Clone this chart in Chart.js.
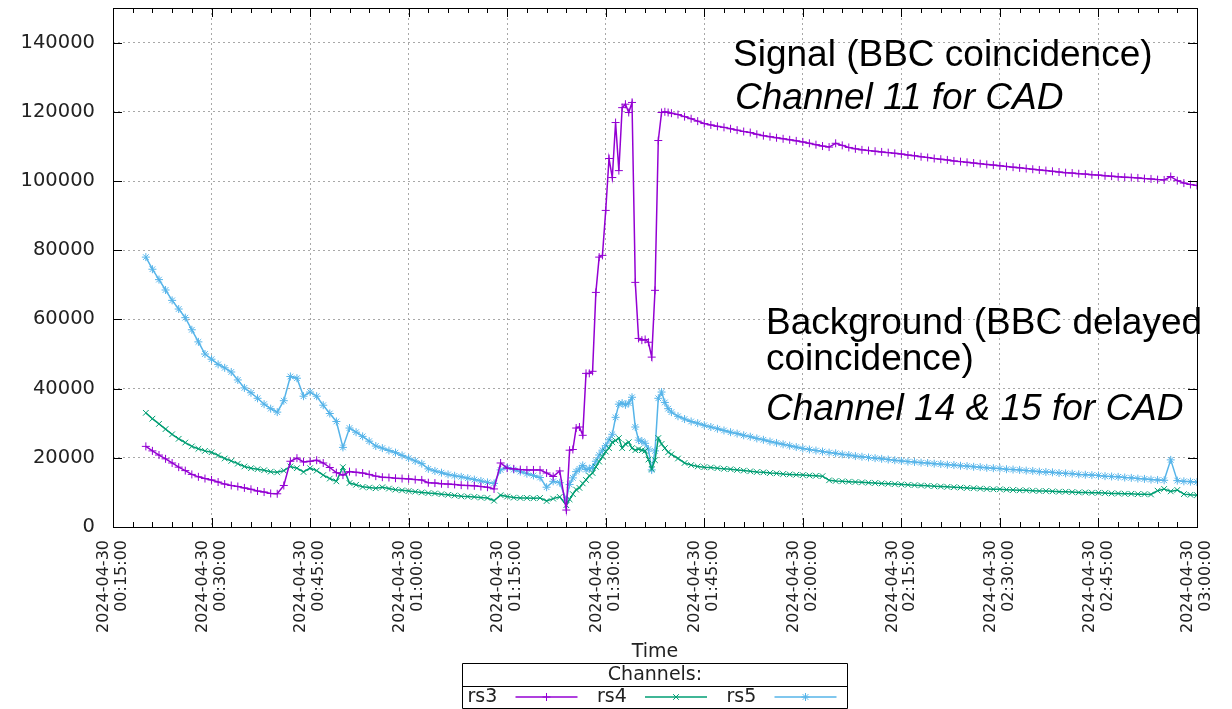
<!DOCTYPE html>
<html>
<head>
<meta charset="utf-8">
<script src="https://cdn.jsdelivr.net/npm/chart.js@4.4.1/dist/chart.umd.min.js"></script>
<style>
  html, body { margin: 0; padding: 0; background: #fff; }
  #wrap { width: 1232px; height: 709px; }
</style>
</head>
<body>
<div id="wrap"><canvas id="myChart" width="1232" height="709"></canvas></div>
<script>
// Global data (time = minutes after 2024-04-30 00:00)
let times = [
  20, 21, 22, 23, 24, 25, 26, 27, 28, 29,
  30, 31, 32, 33, 34, 35, 36, 37, 38, 39,
  40, 41, 42, 43, 44, 45, 46, 47, 48, 49,
  50, 51, 52, 53, 54, 55, 56, 57, 58, 59,
  60, 61, 62, 63, 64, 65, 66, 67, 68, 69,
  70, 71, 72, 73, 74, 75, 76, 77, 78, 79,
  80, 81, 82, 83, 84,
  84.5, 85, 85.5, 86, 86.5, 87, 87.5, 88, 88.5, 89, 89.5, 90, 90.5, 91, 91.5, 92,
  92.5, 93, 93.5, 94, 94.5, 95, 95.5, 96, 96.5, 97, 97.5, 98, 98.5, 99, 99.5, 100,
  101, 102, 103, 104, 105, 106, 107, 108, 109, 110,
  111, 112, 113, 114, 115, 116, 117, 118, 119, 120,
  121, 122, 123, 124, 125, 126, 127, 128, 129, 130,
  131, 132, 133, 134, 135, 136, 137, 138, 139, 140,
  141, 142, 143, 144, 145, 146, 147, 148, 149, 150,
  151, 152, 153, 154, 155, 156, 157, 158, 159, 160,
  161, 162, 163, 164, 165, 166, 167, 168, 169, 170,
  171, 172, 173, 174, 175, 176, 177, 178, 179, 180
];

let rs3 = [
  23300, 22000, 20800, 19700, 18500, 17300, 16300, 15200, 14500, 14000,
  13600, 13000, 12400, 12000, 11700, 11300, 10900, 10400, 10100, 9700,
  9600, 12000, 19000, 19900, 18800, 19000, 19300, 18500, 17200, 15700,
  15000, 16000, 15800, 15600, 15200, 14700, 14400, 14300, 14100, 14000,
  13900, 13700, 13600, 12800, 12700, 12500, 12400, 12300, 12100, 12000,
  11900, 11700, 11500, 11000, 18500, 17000, 16800, 16600, 16500, 16500,
  16500, 15600, 14600, 16200, 4900,
  22200, 22400, 28600, 28900, 26500, 44400, 44400, 45000, 67800, 78000, 78500, 91500, 106500, 101000, 116900, 103000,
  121200, 122200, 119800, 122700, 70700, 54500, 54000, 54200, 53400, 49100, 68400, 111700, 119800, 120000, 119800, 119600,
  119200, 118600, 118000, 117300, 116600, 116200, 115800, 115500, 115100, 114700,
  114300, 114000, 113500, 113100, 112800, 112500, 112200, 111900, 111600, 111300,
  110900, 110500, 110100, 109800, 110900, 110300, 109700, 109300, 109000, 108800,
  108600, 108400, 108200, 108000, 107800, 107500, 107300, 107000, 106800, 106500,
  106300, 106100, 105800, 105600, 105400, 105200, 105000, 104800, 104600, 104400,
  104200, 104000, 103800, 103600, 103400, 103200, 103000, 102800, 102600, 102400,
  102300, 102100, 102000, 101800, 101700, 101500, 101400, 101200, 101100, 101000,
  100900, 100700, 100600, 100400, 100300, 101300, 100100, 99400, 99000, 98700
];

let rs4 = [
  33000, 31300, 29800, 28300, 26800, 25500, 24400, 23300, 22600, 22000,
  21600, 20700, 19800, 19100, 18300, 17500, 17000, 16700, 16400, 16000,
  15800, 16300, 17500, 17000, 15900, 17000, 16300, 15000, 14000, 13200,
  17300, 12700, 12200, 11600, 11400, 11200, 11500, 11100, 10800, 10600,
  10400, 10200, 10000, 9800, 9700, 9500, 9300, 9100, 8900, 8800,
  8700, 8500, 8400, 7600, 9200, 8800, 8500, 8400, 8400, 8300,
  8400, 7500, 8200, 8700, 6300,
  8000, 9500, 10800, 11300, 12600, 13600, 14800, 15600, 17400, 18900, 20300, 21800, 22800, 24500, 25000, 25700,
  22800, 24000, 24500, 22800, 22200, 22500, 22200, 22000, 19500, 16800, 19300, 25700, 24000, 22800, 21600, 21000,
  19800, 18500, 17900, 17500, 17300, 17200, 17000, 16800, 16700, 16500,
  16300, 16100, 15900, 15800, 15600, 15500, 15300, 15200, 15100, 15000,
  14900, 14800, 14700, 13500, 13300, 13200, 13100, 13000, 12900, 12800,
  12700, 12600, 12500, 12400, 12300, 12200, 12100, 12000, 11900, 11800,
  11700, 11600, 11500, 11400, 11300, 11200, 11100, 11000, 10900, 10900,
  10800, 10700, 10600, 10600, 10500, 10400, 10400, 10300, 10200, 10200,
  10100, 10000, 10000, 9900, 9900, 9800, 9700, 9700, 9600, 9600,
  9500, 9500, 9400, 10500, 11000, 10300, 10700, 9500, 9300, 9200
];

let rs5 = [
  78000, 74500, 71500, 68500, 65500, 63000, 60500, 57000, 53500, 50000,
  48500, 47000, 46000, 44800, 42500, 40200, 38800, 37200, 35500, 34200,
  33200, 36500, 43500, 43000, 37800, 39000, 37800, 35200, 32800, 30500,
  23000, 28600, 27400, 26200, 24800, 23400, 22800, 22100, 21500, 20700,
  19900, 19100, 18300, 16800, 16200, 15700, 15200, 14800, 14500, 14100,
  13700, 13300, 12900, 12600, 16500, 17200, 16600, 16000, 15400, 14900,
  14300, 11500, 13200, 12800, 7800,
  12300, 14200, 16000, 16800, 17800, 16600, 16800, 17200, 19000, 20800, 22200, 23500, 25200, 26800, 31700, 35500,
  35800, 35300, 35800, 37500, 28900, 25100, 24800, 24200, 22500, 16500, 22000, 37200, 39000, 36000, 34200, 33200,
  32000, 31200, 30500, 30000, 29400, 28900, 28400, 27900, 27400, 27000,
  26500, 26100, 25600, 25200, 24700, 24300, 23900, 23500, 23100, 22700,
  22400, 22100, 21800, 21500, 21300, 21000, 20800, 20500, 20300, 20100,
  19900, 19700, 19500, 19300, 19100, 18900, 18800, 18600, 18500, 18300,
  18200, 18000, 17900, 17700, 17600, 17400, 17300, 17100, 17000, 16900,
  16700, 16600, 16500, 16300, 16200, 16000, 15900, 15800, 15600, 15500,
  15400, 15200, 15100, 15000, 14900, 14700, 14600, 14500, 14300, 14200,
  14000, 13900, 13700, 13600, 13500, 19400, 13400, 13200, 13100, 13000
];

let seriesNames = ['rs3', 'rs4', 'rs5'];
let seriesColors = ['#9400d3', '#009e73', '#56b4e9'];
let seriesMarkers = ['cross', 'crossRot', 'star'];
let yTicks = [0, 20000, 40000, 60000, 80000, 100000, 120000, 140000];
let xTicks = [15, 30, 45, 60, 75, 90, 105, 120, 135, 150, 165, 180];
let datePart = '2024-04-30';

function pad2(n) {
  return String(n).padStart(2, '0');
}
function timeLabel(m) {
  return [datePart, pad2(Math.floor(m / 60)) + ':' + pad2(m % 60) + ':00'];
}
function points(values) {
  return times.map((t, i) => ({ x: t, y: values[i] }));
}

// frame, inside ticks, notes and the gnuplot style key
const gnuFrame = {
  id: 'gnuFrame',
  afterDraw(chart) {
    let ctx = chart.ctx;
    let a = chart.chartArea;
    let xs = chart.scales.x;
    let ys = chart.scales.y;
    ctx.save();
    ctx.strokeStyle = '#000';
    ctx.lineWidth = 1;
    ctx.strokeRect(Math.round(a.left) + 0.5, Math.round(a.top) + 0.5,
      Math.round(a.right - a.left), Math.round(a.bottom - a.top));

    ctx.beginPath();
    for (let m = 15; m <= 180; m += 3) {
      let px = Math.round(xs.getPixelForValue(m)) + 0.5;
      let len = (m % 15 === 0) ? 9 : 5;
      ctx.moveTo(px, a.bottom); ctx.lineTo(px, a.bottom - len);
      ctx.moveTo(px, a.top); ctx.lineTo(px, a.top + len);
    }
    yTicks.forEach(v => {
      let py = Math.round(ys.getPixelForValue(v)) + 0.5;
      ctx.moveTo(a.left, py); ctx.lineTo(a.left + 9, py);
      ctx.moveTo(a.right, py); ctx.lineTo(a.right - 9, py);
    });
    ctx.stroke();

    // notes
    ctx.fillStyle = '#000';
    ctx.textAlign = 'left';
    ctx.textBaseline = 'alphabetic';
    ctx.font = '37px "Liberation Sans", Arial, sans-serif';
    ctx.fillText('Signal (BBC coincidence)', 733, 66);
    ctx.fillText('Background (BBC delayed', 766, 334);
    ctx.fillText('coincidence)', 766, 370);
    ctx.font = 'italic 37px "Liberation Sans", Arial, sans-serif';
    ctx.fillText('Channel 11 for CAD', 735, 109);
    ctx.fillText('Channel 14 & 15 for CAD', 766, 420);

    // key box
    let cx = (a.left + a.right) / 2;
    let left = Math.round(cx - 193) + 0.5;
    let right = Math.round(cx + 192) + 0.5;
    let top = 663.5, mid = 686.5, bottom = 708.5;
    ctx.beginPath();
    ctx.moveTo(left, bottom); ctx.lineTo(left, top); ctx.lineTo(right, top); ctx.lineTo(right, bottom);
    ctx.moveTo(left, mid); ctx.lineTo(right, mid);
    ctx.moveTo(left, bottom); ctx.lineTo(right, bottom);
    ctx.stroke();
    ctx.font = '19px "DejaVu Sans", sans-serif';
    ctx.textAlign = 'center';
    ctx.textBaseline = 'middle';
    ctx.fillStyle = '#222';
    ctx.fillText('Channels:', cx, 675);
    seriesNames.forEach((name, i) => {
      let ex = left + 5 + i * 129.5;
      let ey = 697;
      ctx.fillStyle = '#222';
      ctx.textAlign = 'left';
      ctx.fillText(name, ex, ey);
      ctx.strokeStyle = seriesColors[i];
      ctx.fillStyle = seriesColors[i];
      ctx.lineWidth = 1.5;
      ctx.beginPath();
      ctx.moveTo(ex + 48, ey); ctx.lineTo(ex + 110, ey);
      ctx.stroke();
      ctx.lineWidth = 1;
      Chart.helpers.drawPoint(ctx, { pointStyle: seriesMarkers[i], radius: 4, rotation: 0, borderWidth: 1 }, ex + 79, ey);
    });
    ctx.restore();
  }
};

let datasets = seriesNames.map((name, i) => ({
  label: name,
  data: points([rs3, rs4, rs5][i]),
  borderColor: seriesColors[i],
  backgroundColor: seriesColors[i],
  borderWidth: 1.5,
  pointStyle: seriesMarkers[i],
  pointRadius: 4,
  pointBorderWidth: 1,
  pointBorderColor: seriesColors[i],
  tension: 0
}));

let ctx = document.getElementById('myChart').getContext('2d');
let myChart = new Chart(ctx, {
  type: 'line',
  data: { datasets: datasets },
  options: {
    responsive: false,
    animation: false,
    devicePixelRatio: 1,
    layout: { padding: { left: 0, top: 8, right: 35, bottom: 46 } },
    plugins: {
      legend: { display: false },
      tooltip: { enabled: false }
    },
    scales: {
      x: {
        type: 'linear',
        min: 15,
        max: 180,
        afterBuildTicks: scale => { scale.ticks = xTicks.map(v => ({ value: v })); },
        afterFit: scale => {
          scale.height = 136;
          scale.paddingLeft = 0; scale.paddingRight = 0;
        },
        ticks: {
          autoSkip: false,
          minRotation: 90,
          maxRotation: 90,
          padding: 13,
          labelOffset: -9,
          color: '#222',
          font: { family: '"DejaVu Sans", sans-serif', size: 16, lineHeight: 1.12 },
          callback: v => timeLabel(v)
        },
        grid: { color: '#a8a8a8', lineWidth: 1, drawTicks: false },
        border: { display: false, dash: [2, 3] },
        title: {
          display: true,
          text: 'Time',
          color: '#222',
          font: { family: '"DejaVu Sans", sans-serif', size: 19 },
          padding: { top: 0, bottom: 0 }
        }
      },
      y: {
        min: 0,
        max: 150000,
        afterBuildTicks: scale => { scale.ticks = yTicks.map(v => ({ value: v })); },
        afterFit: scale => {
          scale.width = 113;
          scale.paddingTop = 0; scale.paddingBottom = 0;
        },
        ticks: {
          padding: 18,
          color: '#222',
          font: { family: '"DejaVu Sans", sans-serif', size: 19.5 },
          callback: v => String(v)
        },
        grid: { color: '#a8a8a8', lineWidth: 1, drawTicks: false },
        border: { display: false, dash: [2, 3] }
      }
    }
  },
  plugins: [gnuFrame]
});
</script>
</body>
</html>
